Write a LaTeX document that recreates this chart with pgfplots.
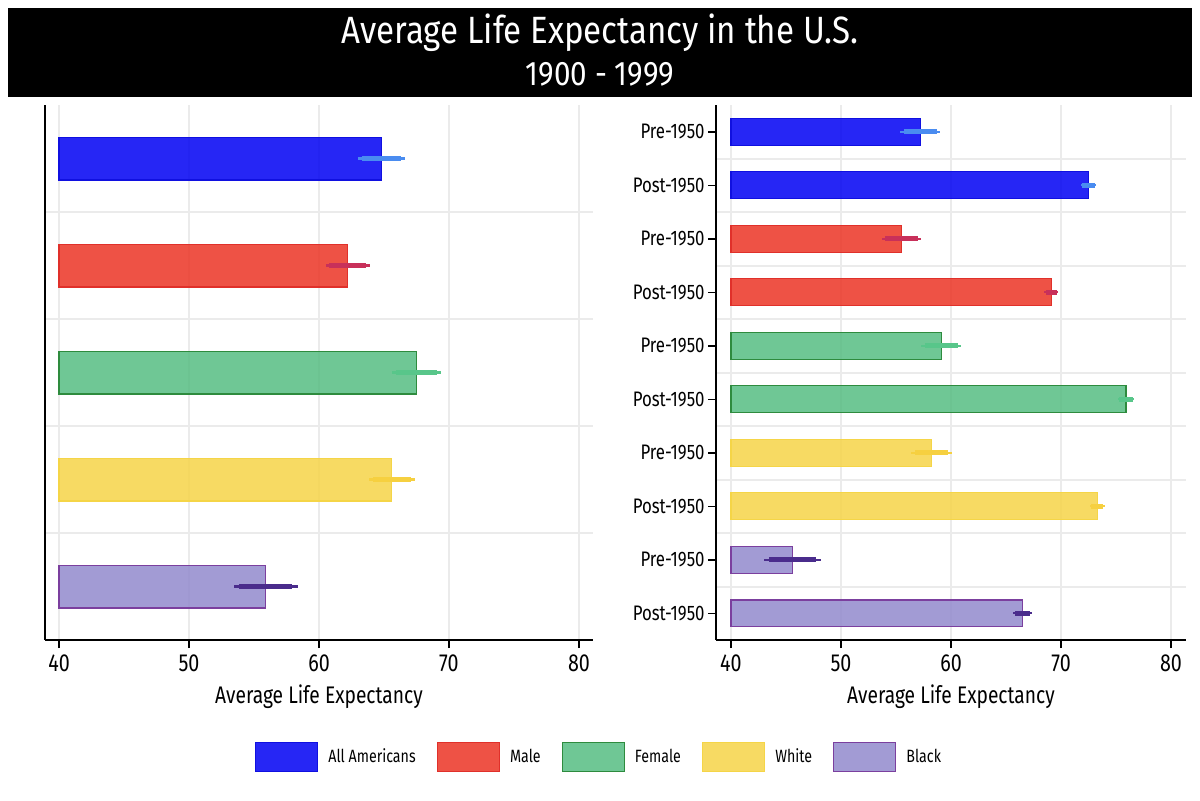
\documentclass[border=0pt]{standalone}
\usepackage{pgfplots}
\pgfplotsset{compat=1.18}
\usepackage{pgfplotstable}
\usepackage{fontspec}
\setmainfont{Fira Sans}[FakeStretch=0.8]
\newfontfamily\titlefont{Fira Sans}[FakeStretch=0.87]

\definecolor{cA}{HTML}{0000F3}\definecolor{cAd}{HTML}{1010E0}\definecolor{eA}{HTML}{4A8CF0}
\definecolor{cM}{HTML}{EB3425}\definecolor{cMd}{HTML}{E0302A}\definecolor{eM}{HTML}{C8305A}
\definecolor{cF}{HTML}{56BD82}\definecolor{cFd}{HTML}{2E8B3E}\definecolor{eF}{HTML}{58C68A}
\definecolor{cW}{HTML}{F6D448}\definecolor{cWd}{HTML}{F5D547}\definecolor{eW}{HTML}{F6D040}
\definecolor{cB}{HTML}{928ACD}\definecolor{cBd}{HTML}{7B3F9E}\definecolor{eB}{HTML}{4A2C8C}
\definecolor{gridc}{HTML}{EBEBEB}

% y = category position, v = value, e = outer half-width, e2 = inner half-width
\pgfplotstableread{
y v e e2
0 64.8 1.8 1.5
}\LAll
\pgfplotstableread{
y v e e2
1 62.2 1.7 1.4
}\LMale
\pgfplotstableread{
y v e e2
2 67.5 1.9 1.6
}\LFemale
\pgfplotstableread{
y v e e2
3 65.6 1.75 1.45
}\LWhite
\pgfplotstableread{
y v e e2
4 55.9 2.45 2.05
}\LBlack

\pgfplotstableread{
y v e e2
0 57.2 1.8 1.5
1 72.5 0.7 0.55
}\RAll
\pgfplotstableread{
y v e e2
2 55.5 1.8 1.5
3 69.1 0.65 0.5
}\RMale
\pgfplotstableread{
y v e e2
4 59.1 1.8 1.5
5 75.9 0.75 0.6
}\RFemale
\pgfplotstableread{
y v e e2
6 58.2 1.85 1.5
7 73.3 0.7 0.55
}\RWhite
\pgfplotstableread{
y v e e2
8 45.6 2.6 2.15
9 66.5 0.85 0.7
}\RBlack

\pgfplotsset{
  common/.style={
    scale only axis,
    height=267.5bp,
    axis x line*=bottom, axis y line*=left,
    axis line style={line width=0.75bp, black},
    y dir=reverse,
    xtick={0,10,20,30,40}, xticklabels={40,50,60,70,80},
    xmajorgrids=true,
    yminorgrids=true,
    major grid style={gridc, line width=1bp},
    minor grid style={gridc, line width=1bp},
    tick align=outside,
    major tick length=4bp,
    minor tick length=0pt,
    tick style={black, line width=0.75bp},
    minor tick style={draw=none},
    xticklabel style={font=\fontsize{12.3bp}{14bp}\selectfont},
    yticklabel style={font=\fontsize{10.5bp}{12bp}\selectfont, inner sep=1.5bp},
    xlabel={Average Life Expectancy},
    xlabel style={font=\fontsize{12bp}{14bp}\selectfont, at={(axis description cs:0.5,-0.1178)}, anchor=base},
  },
  bars/.style n args={2}{xbar, bar shift=0pt, fill=#1, draw=#2, fill opacity=0.85, line width=0.6bp,
    legend image code/.code={\draw[##1, fill opacity=0.85, line width=0.7bp] (0bp,-7.25bp) rectangle (31bp,7.25bp);}},
  errthin/.style={forget plot, only marks, mark options={draw opacity=0, fill opacity=0},
    error bars/.cd, x dir=both, x explicit, error mark=none,
    error bar style={line width=1.1bp, #1}},
  errthick/.style={forget plot, only marks, mark options={draw opacity=0, fill opacity=0},
    error bars/.cd, x dir=both, x explicit, error mark=none,
    error bar style={line width=2.3bp, #1}},
}

\begin{document}
\begin{tikzpicture}
\path[use as bounding box] (0,0) rectangle (600bp,-400.5bp);
\fill[black] (4bp,-4bp) rectangle (596bp,-48.5bp);
\node[white, anchor=base, font=\titlefont\fontsize{19bp}{22bp}\selectfont] at (300bp,-21.5bp) {Average Life Expectancy in the U.S.};
\node[white, anchor=base, font=\titlefont\fontsize{17bp}{20bp}\selectfont] at (300bp,-42.5bp) {1900 - 1999};

\begin{axis}[common,
  at={(22.5bp,-52.5bp)}, anchor=north west, width=274bp,
  xmin=-1.08, xmax=41.08, ymin=-0.5, ymax=4.5,
  bar width=0.4,
  ytick={-5}, yticklabels={},
  minor ytick={0.5,1.5,2.5,3.5},
  legend columns=5,
  legend style={at={(1.0128,-0.2187)}, anchor=center, draw=none, fill=none,
    font=\fontsize{8.9bp}{11bp}\selectfont,
    /tikz/every odd column/.append style={column sep=3bp},
    /tikz/every even column/.append style={column sep=8.5bp}},
]
\addplot[bars={cA}{cAd}] table[x expr=\thisrow{v}-40, y=y] {\LAll};
\addplot[bars={cM}{cMd}] table[x expr=\thisrow{v}-40, y=y] {\LMale};
\addplot[bars={cF}{cFd}] table[x expr=\thisrow{v}-40, y=y] {\LFemale};
\addplot[bars={cW}{cWd}] table[x expr=\thisrow{v}-40, y=y] {\LWhite};
\addplot[bars={cB}{cBd}] table[x expr=\thisrow{v}-40, y=y] {\LBlack};
\legend{All Americans, Male, Female, White, Black}
\addplot[errthin=eA] table[x expr=\thisrow{v}-40, y=y, x error=e] {\LAll};
\addplot[errthick=eA] table[x expr=\thisrow{v}-40, y=y, x error=e2] {\LAll};
\addplot[errthin=eM] table[x expr=\thisrow{v}-40, y=y, x error=e] {\LMale};
\addplot[errthick=eM] table[x expr=\thisrow{v}-40, y=y, x error=e2] {\LMale};
\addplot[errthin=eF] table[x expr=\thisrow{v}-40, y=y, x error=e] {\LFemale};
\addplot[errthick=eF] table[x expr=\thisrow{v}-40, y=y, x error=e2] {\LFemale};
\addplot[errthin=eW] table[x expr=\thisrow{v}-40, y=y, x error=e] {\LWhite};
\addplot[errthick=eW] table[x expr=\thisrow{v}-40, y=y, x error=e2] {\LWhite};
\addplot[errthin=eB] table[x expr=\thisrow{v}-40, y=y, x error=e] {\LBlack};
\addplot[errthick=eB] table[x expr=\thisrow{v}-40, y=y, x error=e2] {\LBlack};
\end{axis}

\begin{axis}[common,
  at={(358bp,-52.5bp)}, anchor=north west, width=235bp,
  xmin=-1.36, xmax=41.36, ymin=-0.5, ymax=9.5,
  bar width=0.5,
  ytick={0,...,9},
  yticklabels={Pre-1950,Post-1950,Pre-1950,Post-1950,Pre-1950,Post-1950,Pre-1950,Post-1950,Pre-1950,Post-1950},
  minor ytick={0.5,1.5,2.5,3.5,4.5,5.5,6.5,7.5,8.5},
]
\addplot[bars={cA}{cAd}] table[x expr=\thisrow{v}-40, y=y] {\RAll};
\addplot[bars={cM}{cMd}] table[x expr=\thisrow{v}-40, y=y] {\RMale};
\addplot[bars={cF}{cFd}] table[x expr=\thisrow{v}-40, y=y] {\RFemale};
\addplot[bars={cW}{cWd}] table[x expr=\thisrow{v}-40, y=y] {\RWhite};
\addplot[bars={cB}{cBd}] table[x expr=\thisrow{v}-40, y=y] {\RBlack};
\addplot[errthin=eA] table[x expr=\thisrow{v}-40, y=y, x error=e] {\RAll};
\addplot[errthick=eA] table[x expr=\thisrow{v}-40, y=y, x error=e2] {\RAll};
\addplot[errthin=eM] table[x expr=\thisrow{v}-40, y=y, x error=e] {\RMale};
\addplot[errthick=eM] table[x expr=\thisrow{v}-40, y=y, x error=e2] {\RMale};
\addplot[errthin=eF] table[x expr=\thisrow{v}-40, y=y, x error=e] {\RFemale};
\addplot[errthick=eF] table[x expr=\thisrow{v}-40, y=y, x error=e2] {\RFemale};
\addplot[errthin=eW] table[x expr=\thisrow{v}-40, y=y, x error=e] {\RWhite};
\addplot[errthick=eW] table[x expr=\thisrow{v}-40, y=y, x error=e2] {\RWhite};
\addplot[errthin=eB] table[x expr=\thisrow{v}-40, y=y, x error=e] {\RBlack};
\addplot[errthick=eB] table[x expr=\thisrow{v}-40, y=y, x error=e2] {\RBlack};
\end{axis}
\end{tikzpicture}
\end{document}
